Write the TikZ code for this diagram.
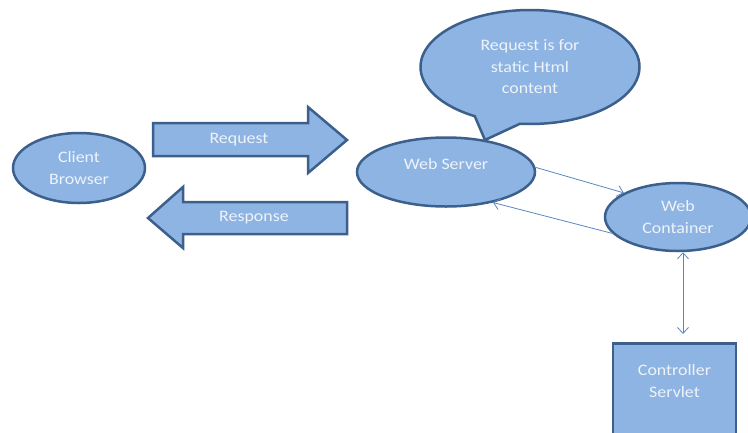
\documentclass[tikz,border=0pt]{standalone}
\usepackage{fontspec}
\setmainfont[FakeStretch=1.12]{Carlito}
\usepackage{xcolor}
\usetikzlibrary{shapes.geometric,shapes.callouts,arrows.meta}

\begin{document}
\begin{tikzpicture}[x=1pt, y=-1pt, font=\fontsize{16}{21.5}\selectfont]

\definecolor{cfill}{rgb}{0.553, 0.706, 0.886}
\definecolor{cline}{rgb}{0.239, 0.373, 0.545}
\definecolor{clink}{rgb}{0.357, 0.525, 0.765}
\definecolor{ctext}{rgb}{0.937, 0.953, 0.976}

\tikzset{
  blob/.style={ellipse, draw=cline, fill=cfill, line width=2.5pt, inner sep=0pt, text=ctext, align=center},
  lbl/.style={text=ctext, align=center, inner sep=0pt},
  link/.style={draw=clink, line width=0.8pt},
  >={Straight Barb[length=6pt, width=11pt]}
}

\useasboundingbox (0,0) rectangle (748,432);

% block arrows
\filldraw[line width=2.5pt, draw=cline, fill=cfill] (153,123) -- (308,123) -- (308,107) -- (347,140) -- (308,173) -- (308,156) -- (153,156) -- cycle;
\node[lbl] (req) at (239,140) {Request};
\filldraw[line width=2.5pt, draw=cline, fill=cfill] (148,218) -- (183,187) -- (183,202) -- (347,202) -- (347,234) -- (183,234) -- (183,248) -- cycle;
\node[lbl] (resp) at (254,218) {Response};

% ellipses
\node[blob, minimum width=132, minimum height=70] (client) at (79,168) {Client\\Browser};
\node[blob, minimum width=178, minimum height=69, text depth=16pt] (ws) at (446,172) {Web Server};
\node[blob, ellipse callout, minimum width=219, minimum height=114, callout absolute pointer={(485,140)}, callout pointer arc=25] (note) at (530,67) {Request is for\\static Html\\content};
\node[blob, minimum width=146, minimum height=68] (wc) at (678,217) {Web\\Container};

% servlet
\node[draw=cline, fill=cfill, line width=2.5pt, minimum width=123, minimum height=110, anchor=north] (servlet) at (674.5,342) {};
\node[lbl] (servlettext) at (674.5,381) {Controller\\Servlet};

% links
\draw[link, ->] (ws.3) -- (wc.156);
\draw[link, ->] (wc.194) -- (ws.-33);
\coordinate (top) at ([xshift=5]wc.south);
\coordinate (bot) at ([yshift=8]servlet.north);
\draw[link, <->] (top) -- (top |- bot);

\end{tikzpicture}
\end{document}
